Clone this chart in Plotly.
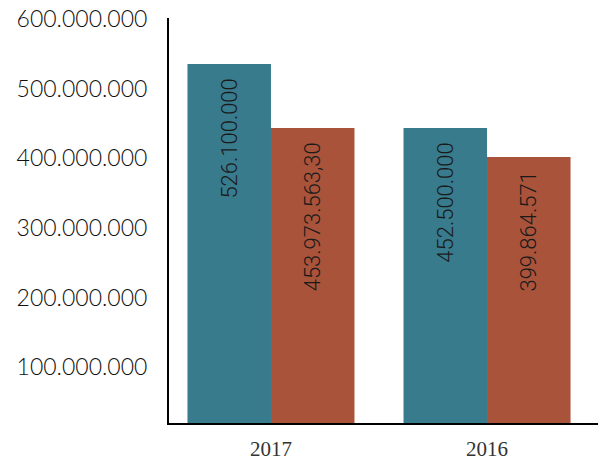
import plotly.graph_objects as go

categories = ["2017", "2016"]
series_a_values = [535.6e6, 443.5e6]
series_b_values = [443.5e6, 402.0e6]
series_a_labels = ["526.100.000", "452.500.000"]
series_b_labels = ["453.973.563,30", "399.864.571"]
y_tick_values = [100e6, 200e6, 300e6, 400e6, 500e6, 600e6]

blue = "#387b8d"
red = "#a9533b"
label_font = dict(family="Roboto, sans-serif", size=22, color="#1a1a1a", weight=300)

fig = go.Figure()
for vals, labels, col in [(series_a_values, series_a_labels, blue), (series_b_values, series_b_labels, red)]:
    fig.add_trace(go.Bar(x=categories, y=vals, marker=dict(color=col, line=dict(width=0)),
                         text=labels, texttemplate="%{text}\u2002",
                         textposition="inside", insidetextanchor="end",
                         textangle=-90, textfont=label_font, hoverinfo="skip"))

# page body has an 8px default margin, so margins are compensated
fig.update_layout(
    width=606, height=464,
    margin=dict(l=161, r=9, t=10, b=49, pad=0),
    barmode="group", bargap=0.227, bargroupgap=0,
    showlegend=False,
    plot_bgcolor="white", paper_bgcolor="white",
    separators=",.",
)
fig.update_xaxes(
    type="category", range=[-0.472, 1.546], automargin=False,
    showline=True, linecolor="black", linewidth=2,
    showgrid=False, ticks="", ticklabelstandoff=6,
    tickfont=dict(family="Liberation Serif, serif", size=21, color="#333333"),
)
fig.update_yaxes(
    range=[19.8e6, 601.7e6], automargin=False, ticklabeloverflow="allow",
    tickvals=y_tick_values, tickformat=",.0f",
    showline=True, linecolor="black", linewidth=2,
    showgrid=False, zeroline=False, ticks="", ticklabelstandoff=15,
    tickfont=dict(family="Lato, sans-serif", size=23, color="#111111", weight=300),
)
fig.write_html("out.html")
